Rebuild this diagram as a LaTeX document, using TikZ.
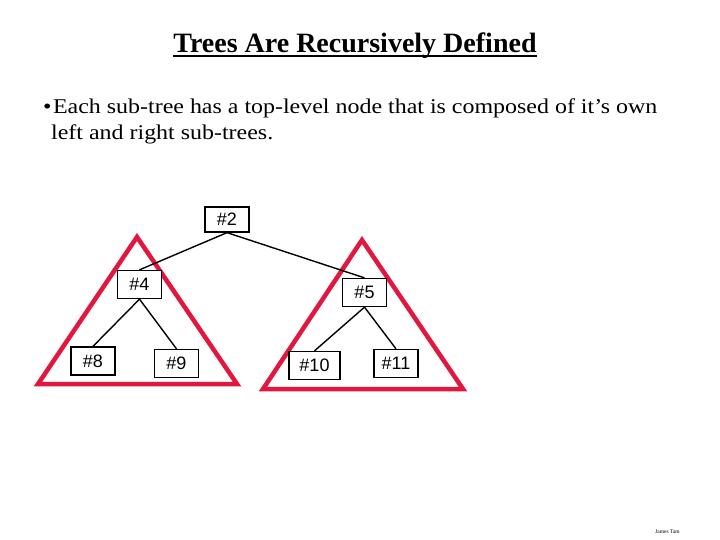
\documentclass[tikz,border=0pt]{standalone}
\usepackage{fontspec}
\setmainfont{Liberation Serif}
\newfontfamily\boxfont{Liberation Sans}
\newfontfamily\widefont[FakeStretch=1.14]{Liberation Serif}
\usetikzlibrary{positioning}
\definecolor{ink}{HTML}{000000}
\definecolor{treered}{HTML}{E2173F}
\newcommand{\boxsize}{\fontsize{18}{21}\selectfont}
\tikzset{
 every node/.append style={text=ink},
 tnode/.style={draw=ink,fill=white,line width=1.3pt,font=\boxfont\boxsize,minimum width=44pt,minimum height=28pt,inner sep=0pt},
 link/.style={draw=ink,line width=1.4pt},
 subtree/.style={draw=treered,line width=4.5pt,line join=miter},
 heading/.style={font=\fontsize{28}{32}\selectfont\bfseries,inner sep=0pt,anchor=base},
 body/.style={font=\widefont\fontsize{21}{25}\selectfont,inner sep=0pt,anchor=base west},
 credit/.style={font=\fontsize{5.5}{6}\selectfont,inner sep=0pt,anchor=base west},
}

\begin{document}
\begin{tikzpicture}[x=1pt,y=-1pt]
\useasboundingbox[fill=white] (0,0) rectangle (720,540);

\node[heading] (title) at (355,53) {Trees Are Recursively Defined};
\draw[line width=2pt] ([yshift=-3.5pt]title.base west) -- ([yshift=-3.5pt]title.base east);

\node[body] (lineA) at (43,114) {\textbullet\hspace{1.5pt}Each sub-tree has a top-level node that is composed of it’s own};
\node[body] (lineB) at (51,140) {left and right sub-trees.};

% the two sub-trees
\draw[subtree] (137,237) -- (237,384) -- (38,384) -- cycle;
\draw[subtree] (362,240) -- (463,389) -- (263,389) -- cycle;

\node[tnode,minimum height=25pt] (n2) at (227,219.5) {\#2};
\node[tnode] (n4) at (139.5,284.5) {\#4};
\node[tnode] (n5) at (364.5,292.5) {\#5};
\node[tnode] (n8) at (93,361) {\#8};
\node[tnode] (n9) at (176.5,363.5) {\#9};
\node[tnode,minimum width=51pt] (n10) at (314.5,365.5) {\#10};
\node[tnode] (n11) at (396,363.5) {\#11};

\draw[link] (n2.south) -- (n4.north);
\draw[link] (n2.south) -- (n5.north);
\draw[link] (n4.south) -- (n8.north);
\draw[link] (n4.south) -- (n9.north);
\draw[link] (n5.south) -- (n10.north);
\draw[link] (n5.south) -- (n11.north);

\node[credit] (author) at (655,533) {James Tam};

\end{tikzpicture}
\end{document}
